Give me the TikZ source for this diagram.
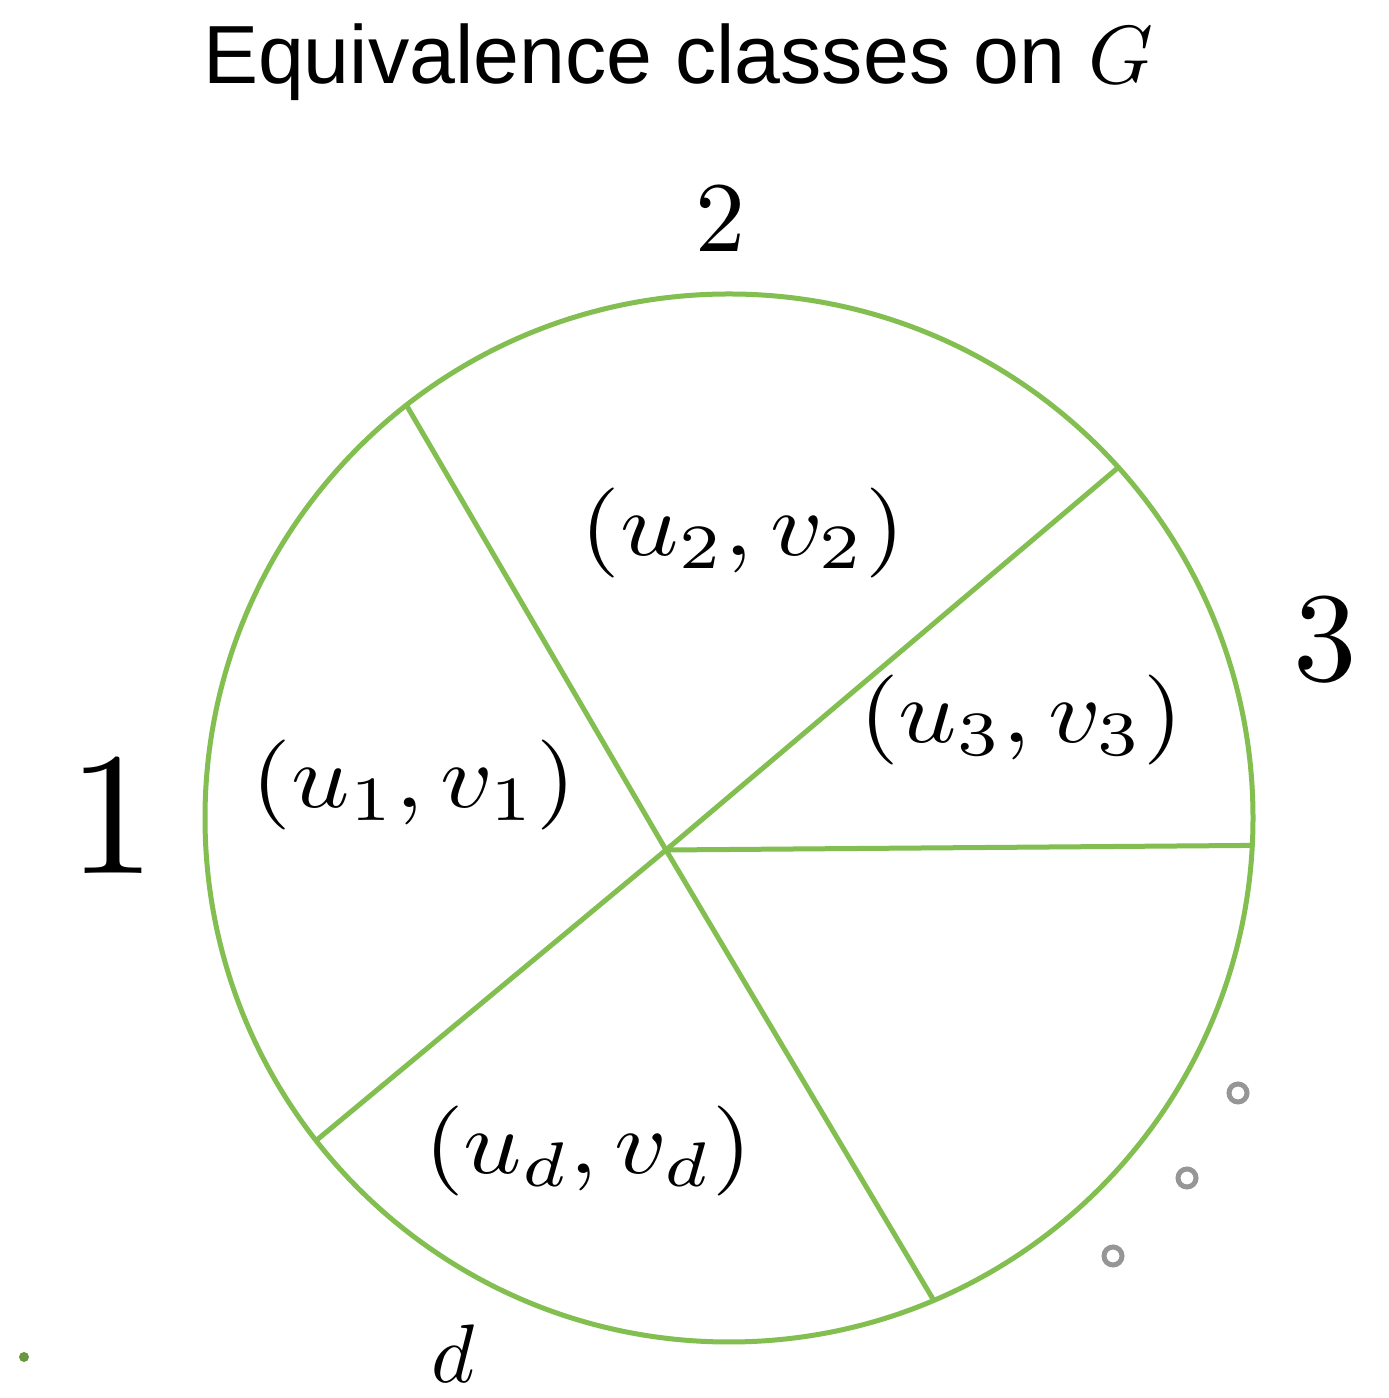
\documentclass[tikz,border=0pt]{standalone}
\usepackage{fontspec}
\newfontfamily\titlefont{Liberation Sans}
\definecolor{ringgreen}{RGB}{130,190,80}
\definecolor{ringgray}{RGB}{150,150,150}
\begin{document}
\begin{tikzpicture}[x=1pt,y=1pt,
  spoke/.style={draw=ringgreen,line width=5pt},
  lbl/.style={inner sep=0pt,outer sep=0pt},
  mathlbl/.style={lbl,xscale=10.2,yscale=9},
  dotring/.style={draw=ringgray,line width=5pt,circle,minimum size=18pt,inner sep=0pt}]
\useasboundingbox[fill=white] (0,0) rectangle (1389,1398);
\node[circle, draw=ringgreen, line width=5pt, minimum size=1048pt, inner sep=0pt, outer sep=0pt] (C) at (729,580) {};
\coordinate (hub) at (666,548);
\draw[spoke] (hub) -- (C.128.3);
\draw[spoke] (hub) -- (C.42.8);
\draw[spoke] (hub) -- (C.-3.3);
\draw[spoke] (hub) -- (C.-67);
\draw[spoke] (hub) -- (C.218.5);
\node[lbl,scale=8.25] (title) at (678,1336) {\titlefont Equivalence classes on $G$};
\node[lbl,scale=10] (n2) at (720,1180) {2};
\node[lbl,scale=12.7] (n3) at (1325,758) {3};
\node[lbl,scale=17.5] (n1) at (112,583) {1};
\node[lbl,scale=8.3] (nd) at (453,44) {$d$};
\node[mathlbl] (e2) at (743,865) {$(u_2,v_2)$};
\node[mathlbl] (e3) at (1021,678) {$(u_3,v_3)$};
\node[mathlbl] (e1) at (414,613) {$(u_1,v_1)$};
\node[mathlbl] (ed) at (588,247) {$(u_d,v_d)$};
\node[dotring] (r1) at (1238,305) {};
\node[dotring] (r2) at (1187,220) {};
\node[dotring] (r3) at (1113,142) {};
\node[circle,fill=ringgreen!80!black,inner sep=0pt,minimum size=10pt] (blob) at (24,41) {};
\end{tikzpicture}
\end{document}
